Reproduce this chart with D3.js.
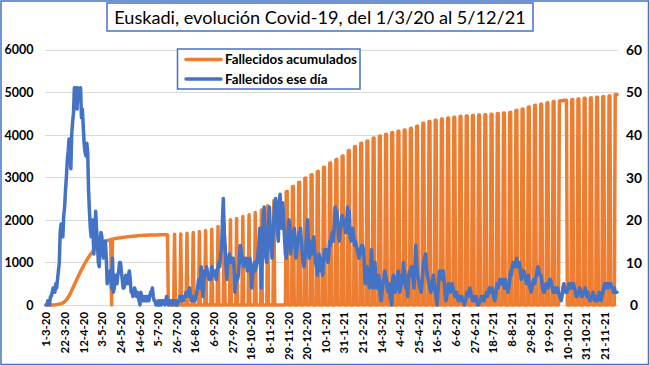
<!DOCTYPE html>
<html><head><meta charset="utf-8">
<script src="https://cdn.jsdelivr.net/npm/d3@7/dist/d3.min.js"></script>
<style>
body{margin:0;background:#fff}
svg{display:block}
text{font-family:Lato,'Open Sans','Liberation Sans',sans-serif}
</style>
</head><body>
<svg id="c" width="650" height="366"></svg>
<script>
// ---------------- DATA ----------------
const titleText = "Euskadi, evolución Covid-19, del 1/3/20 al 5/12/21";
const seriesNames = ["Fallecidos acumulados", "Fallecidos ese día"];
const startDate = "2020-03-01";
const tickLabels = ["1-3-20","22-3-20","12-4-20","3-5-20","24-5-20","14-6-20","5-7-20","26-7-20","16-8-20","6-9-20","27-9-20","18-10-20","8-11-20","29-11-20","20-12-20","10-1-21","31-1-21","21-2-21","14-3-21","4-4-21","25-4-21","16-5-21","6-6-21","27-6-21","18-7-21","8-8-21","29-8-21","19-9-21","10-10-21","31-10-21","21-11-21"];
const leftTicks = [0,1000,2000,3000,4000,5000,6000];
const rightTicks = [0,10,20,30,40,50,60];

// Fallecidos acumulados (left axis), one row per week (Sun..Sat)
const acumulados = [
[0,0,0,0,0,0,0],
[0,0,2,4,7,10,14],
[18,22,27,33,40,50,62],
[78,98,122,150,180,215,255],
[295,340,385,430,475,520,565],
[610,655,700,745,785,825,865],
[905,945,985,1020,1055,1090,1120],
[1150,1180,1210,1240,1270,1300,1330],
[1355,1375,1395,1412,1428,1442,1455],
[1466,1476,1485,1493,1500,1506,1512],
[1518,1524,1530,1535,0,1545,1550],
[1554,1558,1562,1566,1570,1573,1576],
[1579,1582,1585,1588,1591,1594,1597],
[1600,1603,1605,1607,1609,1611,1613],
[1615,1617,1619,1621,1623,1625,1627],
[1629,1631,1633,1634,1635,1636,1637],
[1638,1639,1640,1641,1642,1642,1643],
[1643,1644,1644,1645,1645,1646,1646],
[1646,1647,1647,1647,1648,1648,1648],
[1649,1649,1649,1650,1650,0,0],
[0,0,0,0,0,1660,0],
[0,0,0,0,0,1670,0],
[0,0,0,0,0,1686,0],
[0,0,0,0,0,1700,0],
[0,0,0,0,0,1725,0],
[0,0,0,0,0,1750,0],
[0,0,0,0,0,1780,0],
[0,0,0,0,0,1843,0],
[0,0,0,0,0,1922,0],
[0,0,0,0,0,2000,0],
[0,0,0,0,0,2031,0],
[0,0,0,0,0,2078,0],
[0,0,0,0,0,2118,0],
[0,0,0,0,0,2173,0],
[0,0,0,0,0,2230,0],
[0,0,0,0,0,2330,0],
[0,0,0,0,0,2450,0],
[0,0,0,0,0,0,0],
[0,0,0,0,0,2660,2665],
[0,0,0,0,0,2780,2785],
[0,0,0,0,0,2875,2880],
[0,0,0,0,0,2975,2980],
[0,0,0,0,0,3055,3060],
[0,0,0,0,0,3130,3137],
[0,0,0,0,0,3230,3235],
[0,0,0,0,0,3328,3333],
[0,0,0,0,0,3415,3420],
[0,0,0,0,0,3495,3500],
[0,0,0,0,0,3625,3630],
[0,0,0,0,0,3715,3720],
[0,0,0,0,0,3795,3800],
[0,0,0,0,0,3845,3850],
[0,0,0,0,0,3916,3920],
[0,0,0,0,0,3966,3970],
[0,0,0,0,0,4007,4010],
[0,0,0,0,0,4047,4050],
[0,0,0,0,0,4078,4080],
[0,0,0,0,0,4108,4110],
[0,0,0,0,0,4147,4150],
[0,0,0,0,0,4195,4200],
[0,0,0,0,0,4266,4270],
[0,0,0,0,0,4307,4310],
[0,0,0,0,0,4338,4340],
[0,0,0,0,0,4367,4369],
[0,0,0,0,0,4388,4390],
[0,0,0,0,0,4408,4410],
[0,0,0,0,0,4429,4430],
[0,0,0,0,0,4439,4440],
[0,0,0,0,0,4449,4450],
[0,0,0,0,0,4459,4460],
[0,0,0,0,0,4469,4470],
[0,0,0,0,0,4479,4480],
[0,0,0,0,0,4493,4495],
[0,0,0,0,0,4508,4510],
[0,0,0,0,0,4522,4525],
[0,0,0,0,0,4566,4570],
[0,0,0,0,0,4600,4604],
[0,0,0,0,0,4645,4650],
[0,0,0,0,0,4686,4690],
[0,0,0,0,0,4712,4715],
[0,0,0,0,0,4746,4750],
[0,0,0,0,0,4776,4780],
[0,0,0,0,0,4793,4795],
[4797,4799,4801,4803,4806,4808,4810],
[0,0,0,0,0,4822,4824],
[0,0,0,0,0,4838,4840],
[0,0,0,0,0,4853,4855],
[0,0,0,0,0,4863,4865],
[0,0,0,0,0,4876,4878],
[0,0,0,0,0,4893,4895],
[0,0,0,0,0,4908,4910],
[0,0,0,0,0,4938,4941],
[4943]
].flat();

// Fallecidos ese día (right axis), one row per week (Sun..Sat)
const eseDia = [
[0,0,1,1,0,2,2],[3,4,4,3,5,4,6],[8,10,17,19,18,16,21],[23,27,30,34,36,39,35],
[32,40,43,45,51,49,51],[46,51,50,48,51,44,46],[42,38,36,35,38,36,27],[22,18,16,20,17,12,17],
[22,18,15,10,9,14,17],[16,12,11,13,15,11,5],[7,6,8,6,4,11,3],[4,7,6,5,7,8,10],
[10,8,6,4,4,5,7],[6,5,7,8,6,3,3],[2,3,4,3,2,3,2],[1,0,3,2,1,1,2],
[1,2,1,2,1,2,3],[3,4,2,1,1,0,0],[0,1,0,1,0,1,1],[1,0,1,2,1,0,1],
[1,1,0,1,1,1,0],[1,0,1,1,2,1,2],[2,1,2,2,3,2,3],[3,4,2,1,2,1,1],
[1,2,3,4,6,5,4],[9,6,2,5,8,7,9],[8,7,6,7,6,9,8],[7,8,7,6,8,9,10],
[9,12,13,20,25,17,14],[9,6,10,11,12,10,11],[10,11,9,3,5,7,6],[7,10,14,13,11,10,9],
[11,10,11,8,9,10,11],[8,4,7,9,10,8,9],[10,12,14,18,9,4,12],[20,23,16,11,10,15,19],
[23,17,13,11,16,20,24],[25,20,17,15,24,26,21],[18,24,20,16,12,11,14],[17,20,19,12,15,17,16],
[18,14,11,13,15,17,16],[18,15,12,10,9,11,13],[17,20,14,11,12,14,15],[12,16,13,10,9,7,10],
[12,9,8,11,7,10,13],[12,13,11,10,12,15,14],[16,17,15,18,23,21,22],[20,16,15,18,19,21,20],
[20,18,17,19,23,17,22],[16,15,17,18,16,14,15],[14,13,12,11,13,12,14],[14,13,10,5,8,9,8],
[5,4,7,13,10,4,6],[10,6,4,5,7,6,2],[1,3,5,6,8,7,6],[4,3,5,2,1,0,6],
[7,5,3,4,6,8,7],[3,4,7,5,10,8,6],[4,5,2,7,8,7,9],[9,6,4,8,14,10,7],
[6,5,4,3,5,8,10],[11,12,9,7,6,5,4],[3,4,6,7,5,3,2],[0,3,6,8,7,8,6],
[8,6,3,1,2,4,5],[4,3,4,5,4,3,2],[2,3,2,1,1,2,1],[2,1,1,0,1,2,3],
[2,3,4,3,2,1,2],[1,1,2,1,0,0,1],[1,2,1,2,1,2,2],[3,2,3,4,3,3,4],
[3,2,1,2,4,5,4],[5,6,5,6,6,5,4],[6,5,4,3,4,6,8],[7,9,10,10,9,10,11],
[9,10,10,8,6,7,8],[8,7,6,5,6,7,5],[4,3,4,5,6,5,6],[7,8,9,8,7,7,6],
[4,3,3,4,5,4,4],[5,6,6,5,4,3,3],[4,3,4,4,3,2,2],[1,2,4,5,4,3,3],
[3,4,5,5,4,5,4],[5,4,3,2,2,3,3],[4,3,2,2,3,3,4],[3,2,3,2,1,1,2],
[2,3,2,1,2,1,1],[2,3,2,1,2,3,4],[5,4,5,5,4,5,5],[5,4,4,3,4,3,3],
[3]
].flat();

// ---------------- CHART ----------------
const svg = d3.select("#c");
const parseISO = d3.utcParse("%Y-%m-%d");
const parseTick = d3.utcParse("%d-%m-%y");
const d0 = parseISO(startDate);
const dates = acumulados.map((_, i) => d3.utcDay.offset(d0, i));
const tickDates = tickLabels.map(parseTick);
const labelOf = new Map(tickDates.map((d, i) => [+d, tickLabels[i]]));

const plotL = 45, plotR = 618, plotT = 49.5, plotB = 305;
const x = d3.scaleUtc().domain([dates[0], dates[dates.length - 1]]).range([46, 617]);
const yL = d3.scaleLinear().domain([0, 6000]).range([plotB, plotT]);
const yR = d3.scaleLinear().domain([0, 60]).range([plotB, plotT]);

const orange = "#ED7D31", blue = "#4472C4";

svg.append("rect").attr("x", 0).attr("y", 0).attr("width", 650).attr("height", 366).attr("fill", "#fff");

// gridlines
svg.append("g").selectAll("line").data(leftTicks).join("line")
  .attr("x1", plotL).attr("x2", plotR)
  .attr("y1", d => Math.round(yL(d)) + 0.5).attr("y2", d => Math.round(yL(d)) + 0.5)
  .attr("stroke", "#D9D9D9").attr("stroke-width", 1);

// left axis
const gL = svg.append("g").attr("transform", "translate(33.5,0)")
  .call(d3.axisLeft(yL).tickValues(leftTicks).tickSize(0).tickPadding(0).tickFormat(d3.format("d")));
// right axis
const gR = svg.append("g").attr("transform", "translate(634,0)")
  .call(d3.axisRight(yR).tickValues(rightTicks).tickSize(0).tickPadding(0).tickFormat(d3.format("d")));
// bottom axis
const gB = svg.append("g").attr("transform", `translate(0,${plotB})`)
  .call(d3.axisBottom(x).tickValues(tickDates).tickSize(0).tickFormat(d => labelOf.get(+d)));

[gL, gR, gB].forEach(g => {
  g.select(".domain").remove();
  g.attr("font-family", null).attr("font-size", null);
  g.selectAll("text").attr("fill", "#000").attr("font-weight", "bold").attr("font-size", 13);
});
gR.selectAll("text").attr("text-anchor", "middle");
gL.selectAll("text").attr("dy", "0.35em");
gR.selectAll("text").attr("dy", "0.35em");
gB.selectAll("text").attr("transform", "rotate(-90)").attr("x", -7).attr("y", 0)
  .attr("dy", "0.35em").attr("text-anchor", "end");

// fit fonts
function fitSize(sel, sampleNode, target) {
  const w = sampleNode.getComputedTextLength();
  const fs = parseFloat(d3.select(sampleNode).attr("font-size"));
  sel.attr("font-size", (fs * target / w).toFixed(2));
}
fitSize(gL.selectAll("text"), gL.selectAll("text").filter(d => d === 6000).node(), 29);
fitSize(gR.selectAll("text"), gR.selectAll("text").filter(d => d === 60).node(), 16);
fitSize(gB.selectAll("text"), gB.selectAll("text").filter(d => labelOf.get(+d) === "18-10-20").node(), 48);

// lines
const lineO = d3.line().x((d, i) => x(dates[i])).y(d => yL(d));
const lineB = d3.line().x((d, i) => x(dates[i])).y(d => yR(d));
svg.append("path").datum(acumulados).attr("d", lineO).attr("fill", "none")
  .attr("stroke", orange).attr("stroke-width", 3.5).attr("stroke-linejoin", "round").attr("stroke-linecap", "round");
svg.append("path").datum(eseDia).attr("d", lineB).attr("fill", "none")
  .attr("stroke", blue).attr("stroke-width", 3.5).attr("stroke-linejoin", "round").attr("stroke-linecap", "round");

// legend
const lg = svg.append("g");
lg.append("rect").attr("x", 177.5).attr("y", 49).attr("width", 182.5).attr("height", 40)
  .attr("fill", "#fff").attr("stroke", blue).attr("stroke-width", 1.5);
const legItems = [{name: seriesNames[0], color: orange, y: 59.5}, {name: seriesNames[1], color: blue, y: 79}];
legItems.forEach((it, k) => {
  lg.append("line").attr("x1", 186).attr("x2", 221).attr("y1", it.y).attr("y2", it.y)
    .attr("stroke", it.color).attr("stroke-width", 3.5).attr("stroke-linecap", "round");
  lg.append("text").attr("x", 225).attr("y", it.y).attr("dy", "0.35em")
    .attr("font-weight", "bold").attr("font-size", 13).attr("fill", "#000").text(it.name);
});
{
  const t0 = lg.selectAll("text").filter((d, i) => i === 0);
  fitSize(lg.selectAll("text"), t0.node(), 132);
}

// title
svg.append("rect").attr("x", 107).attr("y", 3).attr("width", 426).attr("height", 28)
  .attr("fill", "#fff").attr("stroke", blue).attr("stroke-width", 1.5);
const tt = svg.append("text").attr("x", 320).attr("y", 17.5).attr("dy", "0.35em")
  .attr("text-anchor", "middle").attr("font-size", 19).attr("fill", "#000").text(titleText);
fitSize(tt, tt.node(), 412);

// outer border
svg.append("rect").attr("x", 1).attr("y", 1).attr("width", 647.5).attr("height", 363.5)
  .attr("fill", "none").attr("stroke", blue).attr("stroke-width", 1.5);
</script>
</body></html>
